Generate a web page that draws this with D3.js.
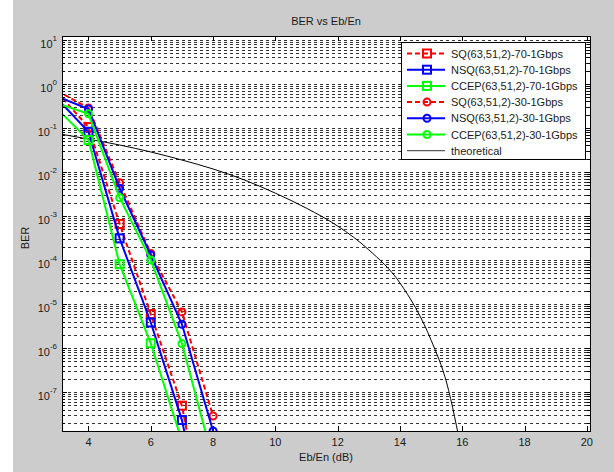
<!DOCTYPE html>
<html>
<head>
<meta charset="utf-8">
<script src="https://cdn.jsdelivr.net/npm/d3@7"></script>
<style>
  body { margin: 0; background: #fff; }
  text { font-family: "Liberation Sans", Arial, sans-serif; fill: #1a1a1a; }
</style>
</head>
<body>
<div id="chart"></div>
<script>
// Eb/En points (dB)
const ebno = [3, 4, 5, 6, 7, 8];

// code rate 70 (squares)
const sq70   = [0.64, 0.105, 6.6e-4, 5.9e-6, 4.9e-8, 1e-11];
const nsq70  = [0.46, 0.082, 3.1e-4, 3.8e-6, 2.3e-8, 1e-11];
const ccep70 = [0.27, 0.053, 8.0e-5, 1.28e-6, 7.7e-9, 1e-11];

// code rate 30 (circles)
const sq30   = [0.70, 0.285, 5.7e-3, 1.41e-4, 6.6e-6, 2.85e-8];
const nsq30  = [0.52, 0.27, 4.27e-3, 1.3e-4, 3.46e-6, 1.3e-8];
const ccep30 = [0.36, 0.21, 2.6e-3, 1.0e-4, 1.26e-6, 2.8e-9];

// theoretical curve
const theoX = [3, 4, 5, 6, 7, 8, 9, 10, 11, 12, 13, 14, 15, 15.5, 16];
const theoY = [0.075, 0.056, 0.041, 0.0285, 0.0187, 0.0117, 6.6e-3, 3.3e-3, 1.5e-3, 5.9e-4, 1.7e-4, 3.0e-5, 1.5e-6, 1.6e-7, 3.7e-9];

const legendLabels = [
  "SQ(63,51,2)-70-1Gbps", "NSQ(63,51,2)-70-1Gbps", "CCEP(63,51,2)-70-1Gbps",
  "SQ(63,51,2)-30-1Gbps", "NSQ(63,51,2)-30-1Gbps", "CCEP(63,51,2)-30-1Gbps",
  "theoretical"
];
const xTicks = [4, 6, 8, 10, 12, 14, 16, 18, 20];
const yExps = [-7, -6, -5, -4, -3, -2, -1, 0, 1];

const width = 614, height = 472;
const pLeft = 62, pRight = 590, pTop = 36, pBottom = 431;

const series = [
  { values: sq70,   color: "#ff0000", dash: "5,3", marker: "square" },
  { values: nsq70,  color: "#0000ff", dash: null,  marker: "square" },
  { values: ccep70, color: "#00ff00", dash: null,  marker: "square" },
  { values: sq30,   color: "#ff0000", dash: "5,3", marker: "circle" },
  { values: nsq30,  color: "#0000ff", dash: null,  marker: "circle" },
  { values: ccep30, color: "#00ff00", dash: null,  marker: "circle" }
];

const svg = d3.select("#chart")
  .append("svg")
  .attr("width", width)
  .attr("height", height);

// grey figure background
svg.append("rect")
  .attr("x", 13).attr("y", 0)
  .attr("width", width - 13).attr("height", height)
  .attr("fill", "#cccccc");

const x = d3.scaleLinear().domain([3.15, 20.1]).range([pLeft, pRight]);
const y = d3.scaleLog().domain([1.3e-8, 12.3]).range([pBottom, pTop]);

svg.append("rect")
  .attr("x", pLeft).attr("y", pTop)
  .attr("width", pRight - pLeft).attr("height", pBottom - pTop)
  .attr("fill", "#fff");

// log minor / major values inside the domain
const minorVals = [];
for (let e = -9; e <= 1; e++) {
  for (let m = 1; m <= 9; m++) {
    const v = m * Math.pow(10, e);
    if (v >= y.domain()[0] && v <= y.domain()[1]) minorVals.push(v);
  }
}

// dashed horizontal grid
svg.append("g")
  .selectAll("line")
  .data(minorVals)
  .enter()
  .append("line")
  .attr("x1", pLeft).attr("x2", pRight)
  .attr("y1", (d) => Math.round(y(d)) + 0.5)
  .attr("y2", (d) => Math.round(y(d)) + 0.5)
  .attr("stroke", "#333")
  .attr("stroke-width", 1)
  .attr("stroke-dasharray", "3,3");

// clip for data
svg.append("clipPath").attr("id", "clip")
  .append("rect")
  .attr("x", pLeft).attr("y", pTop)
  .attr("width", pRight - pLeft).attr("height", pBottom - pTop);

const plot = svg.append("g").attr("clip-path", "url(#clip)");

// theoretical
const theoLine = d3.line()
  .x((d) => x(d[0]))
  .y((d) => y(d[1]))
  .curve(d3.curveMonotoneX);

plot.append("path")
  .attr("d", theoLine(theoX.map((v, i) => [v, theoY[i]])))
  .attr("fill", "none")
  .attr("stroke", "#000")
  .attr("stroke-width", 1);

const line = d3.line()
  .x((d) => x(d[0]))
  .y((d) => y(d[1]));

const drawMarker = (g, marker, color, cx, cy) => {
  if (marker === "square") {
    g.append("rect")
      .attr("x", cx - 4).attr("y", cy - 4)
      .attr("width", 8).attr("height", 8)
      .attr("fill", "none").attr("stroke", color).attr("stroke-width", 2);
  } else {
    g.append("circle")
      .attr("cx", cx).attr("cy", cy).attr("r", 3.5)
      .attr("fill", "none").attr("stroke", color).attr("stroke-width", 2);
  }
};

series.forEach((s) => {
  const pts = ebno.map((v, i) => [v, s.values[i]]);
  plot.append("path")
    .attr("d", line(pts))
    .attr("fill", "none")
    .attr("stroke", s.color)
    .attr("stroke-width", 2)
    .attr("stroke-dasharray", s.dash);
  pts.forEach((p) => {
    if (p[1] >= y.domain()[0]) drawMarker(plot, s.marker, s.color, x(p[0]), y(p[1]));
  });
});

// axes box
svg.append("rect")
  .attr("x", pLeft + 0.5).attr("y", pTop + 0.5)
  .attr("width", pRight - pLeft).attr("height", pBottom - pTop)
  .attr("fill", "none").attr("stroke", "#000").attr("stroke-width", 1);

// x ticks (inside, top and bottom)
const xt = svg.append("g");
xTicks.forEach((t) => {
  const px = Math.round(x(t)) + 0.5;
  xt.append("line").attr("x1", px).attr("x2", px).attr("y1", pBottom).attr("y2", pBottom - 5).attr("stroke", "#000");
  xt.append("line").attr("x1", px).attr("x2", px).attr("y1", pTop).attr("y2", pTop + 5).attr("stroke", "#000");
  xt.append("text")
    .attr("x", x(t)).attr("y", pBottom + 15)
    .attr("text-anchor", "middle")
    .style("font-size", "11px")
    .text(t);
});

// y ticks
const yt = svg.append("g");
minorVals.forEach((v) => {
  const py = Math.round(y(v)) + 0.5;
  const major = Math.abs(Math.log10(v) - Math.round(Math.log10(v))) < 1e-9;
  const len = major ? 5 : 3;
  yt.append("line").attr("x1", pLeft).attr("x2", pLeft + len).attr("y1", py).attr("y2", py).attr("stroke", "#000");
  yt.append("line").attr("x1", pRight).attr("x2", pRight - len).attr("y1", py).attr("y2", py).attr("stroke", "#000");
});
yExps.forEach((e) => {
  const py = y(Math.pow(10, e));
  const t = yt.append("text")
    .attr("x", 57).attr("y", py + 8)
    .attr("text-anchor", "end")
    .style("font-size", "11px");
  t.append("tspan").text("10");
  t.append("tspan").attr("dy", -7).style("font-size", "8px").text(e);
});

// titles
svg.append("text")
  .attr("x", (pLeft + pRight) / 2).attr("y", 25)
  .attr("text-anchor", "middle")
  .style("font-size", "11px")
  .text("BER vs Eb/En");

svg.append("text")
  .attr("x", (pLeft + pRight) / 2).attr("y", 461)
  .attr("text-anchor", "middle")
  .style("font-size", "11px")
  .text("Eb/En (dB)");

svg.append("text")
  .attr("transform", `translate(29, 238) rotate(-90)`)
  .attr("text-anchor", "middle")
  .style("font-size", "11px")
  .text("BER");

// legend
const lg = svg.append("g");
lg.append("rect")
  .attr("x", 401.5).attr("y", 42.5)
  .attr("width", 184).attr("height", 117)
  .attr("fill", "#fff").attr("stroke", "#000");

const legendItems = series.concat([{ color: "#000", dash: null, marker: null, thin: true }]);
legendItems.forEach((s, i) => {
  const ly = 53.5 + i * 16.2;
  lg.append("line")
    .attr("x1", 407).attr("x2", 445)
    .attr("y1", ly).attr("y2", ly)
    .attr("stroke", s.thin ? "#333" : s.color)
    .attr("stroke-width", s.thin ? 1 : 2)
    .attr("stroke-dasharray", s.dash);
  if (s.marker) drawMarker(lg, s.marker, s.color, 427, ly);
  lg.append("text")
    .attr("x", 451).attr("y", ly + 4)
    .style("font-size", "11px")
    .text(legendLabels[i]);
});
</script>
</body>
</html>
